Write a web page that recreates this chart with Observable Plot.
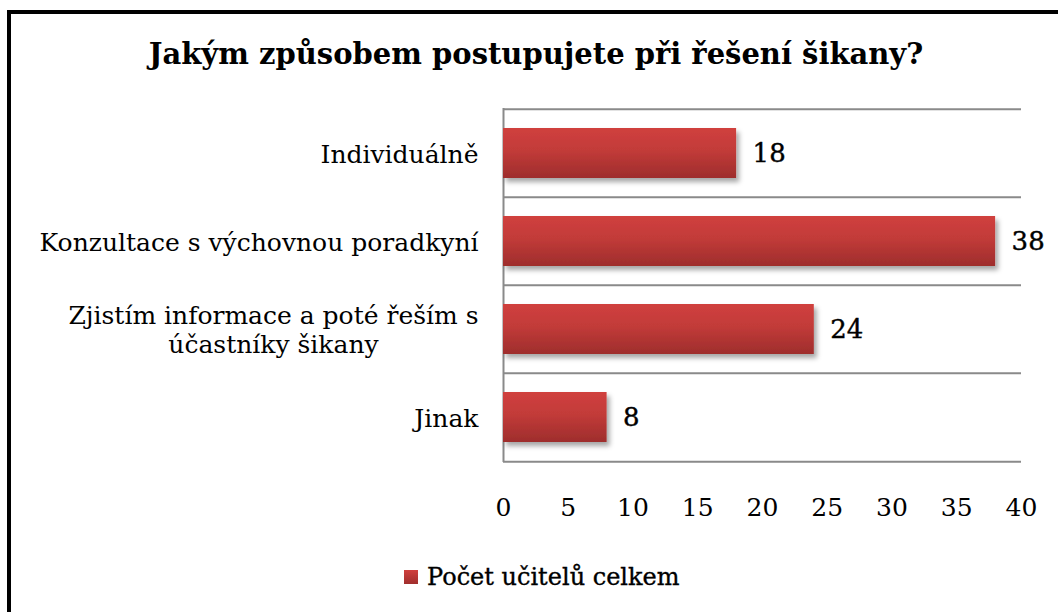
<!DOCTYPE html>
<html><head><meta charset="utf-8">
<script src="https://cdn.jsdelivr.net/npm/d3@7"></script>
<script src="https://cdn.jsdelivr.net/npm/@observablehq/plot@0.6"></script>
<style>
html,body{margin:0;padding:0;background:#fff;}
body{width:1058px;height:612px;overflow:hidden;position:relative;font-family:"DejaVu Serif",serif;color:#000;}
#frame{position:absolute;left:7px;top:10px;width:1200px;height:800px;border-left:4px solid #000;border-top:4px solid #000;box-sizing:border-box;}
#title{position:absolute;left:0;width:1072px;top:35px;text-align:center;font-weight:bold;font-size:29px;line-height:38px;white-space:nowrap;}
#chart{position:absolute;left:0;top:0;}
#legend{position:absolute;top:561px;left:404px;font-size:24px;line-height:32px;display:flex;align-items:center;white-space:nowrap;-webkit-text-stroke:0.35px #000;}
#legend .sw{display:inline-block;width:14px;height:14px;background:linear-gradient(#d0403e,#a02e2d);margin-right:9px;}
</style></head>
<body>
<div id="frame"></div>
<div id="title">Jakým způsobem postupujete při řešení šikany?</div>
<div id="chart"></div>
<div id="legend"><span class="sw"></span><span id="legendText"></span></div>
<script>
// ---- data ----
const categories = [
  "Individuálně",
  "Konzultace s výchovnou poradkyní",
  "Zjistím informace a poté řeším s\núčastníky šikany",
  "Jinak"
];
const values = [18, 38, 24, 8];
const xTicks = [0, 5, 10, 15, 20, 25, 30, 35, 40];
const seriesName = "Počet učitelů celkem";

const data = categories.map((c, i) => ({category: c, value: values[i]}));

// ---- layout ----
const W = 1058, H = 612;
const mTop = 108, mBottom = 150, mLeft = 503, mRight = 37;
const step = (H - mTop - mBottom) / categories.length;
const serif = "'DejaVu Serif', serif";

const defs = () => {
  const d = d3.create("svg:defs");
  const g = d.append("linearGradient").attr("id", "barGrad")
    .attr("x1", 0).attr("y1", 0).attr("x2", 0).attr("y2", 1);
  g.append("stop").attr("offset", "0%").attr("stop-color", "#d0403e");
  g.append("stop").attr("offset", "45%").attr("stop-color", "#c23b39");
  g.append("stop").attr("offset", "100%").attr("stop-color", "#9e2d2c");
  const f = d.append("filter").attr("id", "barShadow")
    .attr("x", "-5%").attr("y", "-20%").attr("width", "115%").attr("height", "160%");
  f.append("feDropShadow").attr("dx", 3).attr("dy", 4).attr("stdDeviation", 2.5)
    .attr("flood-color", "#000").attr("flood-opacity", 0.35);
  return d.node();
};

const textStroke = {fill: "#000", stroke: "#000", strokeWidth: 0.4};

const chart = Plot.plot({
  width: W, height: H,
  marginTop: mTop, marginBottom: mBottom, marginLeft: mLeft, marginRight: mRight,
  style: {fontFamily: serif, fontSize: "25px", color: "#000", background: "transparent", overflow: "visible"},
  x: {domain: [0, 40], label: null},
  y: {domain: categories, paddingInner: 0.435, paddingOuter: 0.2175, label: null},
  marks: [
    defs,
    Plot.ruleY(categories, {y: d => d, dy: -step / 2, stroke: "#8a8a8a", strokeWidth: 2}),
    Plot.ruleY(categories.slice(-1), {y: d => d, dy: step / 2, stroke: "#8a8a8a", strokeWidth: 2}),
    Plot.ruleX([0], {stroke: "#8a8a8a", strokeWidth: 2}),
    Plot.barX(data, {x: "value", y: "category", fill: "url(#barGrad)"}),
    Plot.axisX({ticks: xTicks, tickSize: 0, tickPadding: 36, tickFormat: d => String(d), fontSize: 25, fontFamily: serif, label: null, ...textStroke}),
    Plot.axisY({tickSize: 0, tickPadding: 25, fontSize: 25, fontFamily: serif, lineHeight: 1.16, label: null, ...textStroke}),
    Plot.text(data, {x: "value", y: "category", text: d => String(d.value), textAnchor: "start", dx: 16, fontSize: 26, fontFamily: serif, ...textStroke})
  ]
});
document.getElementById("chart").append(chart);
document.getElementById("legendText").textContent = seriesName;

// shadow on bars
d3.select(chart).selectAll("g[aria-label='bar'] rect").attr("filter", "url(#barShadow)");

// center multi-line y labels within their block (right aligned block)
d3.select(chart).selectAll("g[aria-label='y-axis tick label'] text").each(function() {
  const tspans = this.querySelectorAll("tspan");
  if (tspans.length < 2) return;
  let w = 0;
  tspans.forEach(t => { w = Math.max(w, t.getComputedTextLength()); });
  this.setAttribute("text-anchor", "middle");
  tspans.forEach(t => { t.setAttribute("x", (+t.getAttribute("x") || 0) - w / 2); });
});
</script>
</body></html>
